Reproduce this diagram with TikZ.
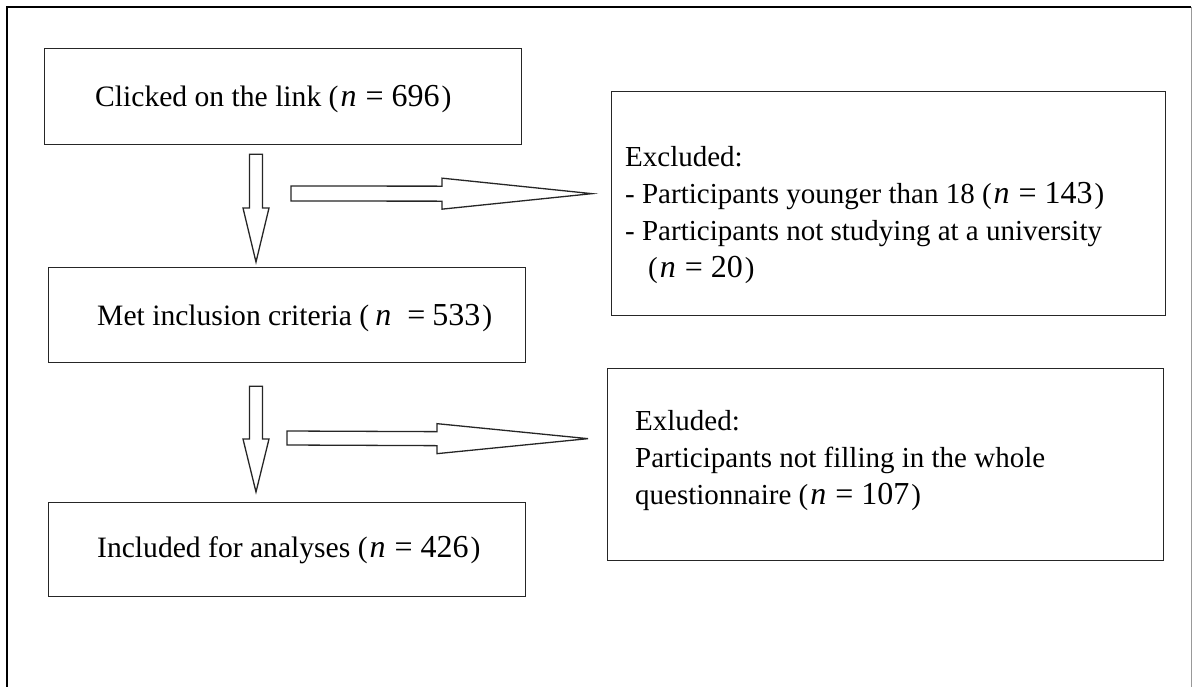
\documentclass[tikz,border=0pt]{standalone}
\usepackage{fontspec}
\setmainfont{Liberation Serif}
\usetikzlibrary{calc}
\newcommand\nval[1]{(\kern2pt{\fontsize{32}{37}\selectfont\textit{n}\hspace{9pt}=\hspace{8pt}#1}\kern2pt)}
\begin{document}
\begin{tikzpicture}[x=1pt,y=-1pt,
  box/.style={draw=black!85, line width=1.3pt, rectangle, inner sep=0pt},
  lbl/.style={font=\fontsize{29.6}{37}\selectfont, inner sep=0pt, anchor=base west, align=left},
  rlbl/.style={font=\fontsize{29}{37}\selectfont, inner sep=0pt, anchor=base west, align=left},
  blockarrow/.style={draw=black!85, line width=1.3pt, fill=white, line join=miter}]
\useasboundingbox (0,0) rectangle (1192,686);
\clip (0,0) rectangle (1192,686);
% outer frame
\draw[line width=2pt] (7,700) -- (7,7) -- (1191,7);
\draw[black!40, line width=1pt] (1191,7) -- (1191,700);

% left column
\node[box, minimum width=477pt, minimum height=96pt, anchor=north west] (click) at (44,48) {};
\node[lbl] (clickt) at (95,106) {Clicked on the link \nval{696}};
\node[box, minimum width=477pt, minimum height=95pt, anchor=north west] (met) at (48,267) {};
\node[lbl] (mett) at (97,325) {Met inclusion criteria (\hspace{6pt}{\fontsize{32}{37}\selectfont\textit{n}\hspace{16pt}=\hspace{7pt}533}\kern2pt)};
\node[box, minimum width=477pt, minimum height=94pt, anchor=north west] (incl) at (48,502) {};
\node[lbl] (inclt) at (97,557) {Included for analyses \nval{426}};

% right column
\node[box, minimum width=554pt, minimum height=224pt, anchor=north west] (ex1) at (611,91) {};
\node[rlbl] (ex1t) at (625,277) {Excluded:\\- Participants younger than 18 \nval{143}\\- Participants not studying at a university\\\hspace{23pt}\nval{20}};
\node[box, minimum width=556pt, minimum height=192pt, anchor=north west] (ex2) at (607,368) {};
\node[rlbl] (ex2t) at (635,504) {Exluded:\\Participants not filling in the whole\\questionnaire \nval{107}};

% connector end points
\coordinate (d1s) at ($(click.south west)+(212,9)$);
\coordinate (d1e) at ($(met.north west)+(208,-5)$);
\coordinate (h1s) at (291,193.5);
\coordinate (h1e) at ($(ex1.west)+(-19,-10)$);
\coordinate (d2s) at ($(met.south west)+(208,23)$);
\coordinate (d2e) at ($(incl.north west)+(208,-10)$);
\coordinate (h2s) at (287,438);
\coordinate (h2e) at ($(ex2.west)+(-19,-26)$);

% down arrows
\draw[blockarrow] ($(d1s)+(-6.5,0)$) -- ($(d1s)+(6.5,0)$) -- ($(d1e)+(6.5,-54)$) -- ($(d1e)+(13,-54)$) -- (d1e) -- ($(d1e)+(-13,-54)$) -- ($(d1e)+(-6.5,-54)$) -- cycle;
\draw[blockarrow] ($(d2s)+(-6.5,0)$) -- ($(d2s)+(6.5,0)$) -- ($(d2e)+(6.5,-53)$) -- ($(d2e)+(13,-53)$) -- (d2e) -- ($(d2e)+(-13,-53)$) -- ($(d2e)+(-6.5,-53)$) -- cycle;
% side arrows
\draw[blockarrow] ($(h1s)+(0,-7.5)$) -- ($(h1e)+(-150,-7.5)$) -- ($(h1e)+(-150,-15.5)$) -- (h1e) -- ($(h1e)+(-150,15.5)$) -- ($(h1e)+(-150,7.5)$) -- ($(h1s)+(0,7.5)$) -- cycle;
\draw[blockarrow] ($(h2s)+(0,-7)$) -- ($(h2e)+(-151,-7)$) -- ($(h2e)+(-151,-15)$) -- (h2e) -- ($(h2e)+(-151,15)$) -- ($(h2e)+(-151,7)$) -- ($(h2s)+(0,7)$) -- cycle;
\end{tikzpicture}
\end{document}
